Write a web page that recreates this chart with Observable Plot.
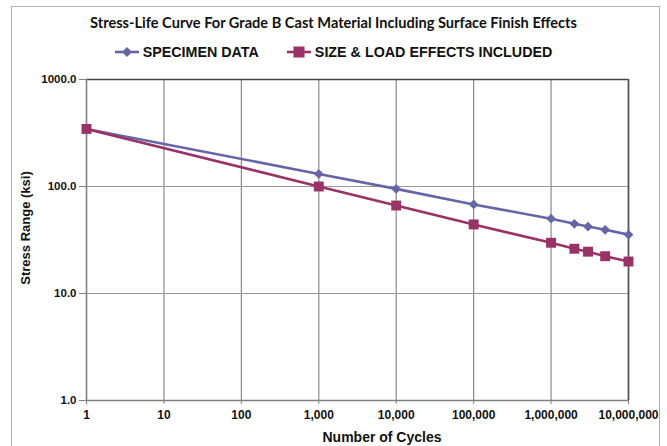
<!DOCTYPE html>
<html>
<head>
<meta charset="utf-8">
<script src="https://cdn.jsdelivr.net/npm/d3@7"></script>
<script src="https://cdn.jsdelivr.net/npm/@observablehq/plot@0.6"></script>
<style>
  html, body { margin: 0; padding: 0; background: #fff; }
  #wrap { position: relative; width: 667px; height: 446px; overflow: hidden; font-family: "Liberation Sans", Arial, sans-serif; }
  #border { position: absolute; left: 11px; top: 6px; width: 649px; height: 470px; border: 1.5px solid #b0b0b0; box-sizing: border-box; }
  #chart { position: absolute; left: 0; top: 0; }
  .abs { position: absolute; white-space: nowrap; }
  #title { left: 0; width: 667px; top: 22px; transform: translateY(-50%); text-align: center; font-family: Lato, "Open Sans", sans-serif; font-weight: bold; font-size: 14.6px; color: #111; }
  #legend { left: 0; width: 667px; top: 52px; transform: translateY(-50%); display: flex; justify-content: center; gap: 28px; font-weight: bold; font-size: 14.3px; color: #111; }
  .item { display: flex; align-items: center; gap: 4px; }
  #ytitle { left: 25px; top: 228px; transform: translate(-50%, -50%) rotate(-90deg); font-weight: bold; font-size: 13px; color: #111; }
  #xtitle { left: 382px; top: 437px; transform: translate(-50%, -50%); font-weight: bold; font-size: 14px; color: #111; }
</style>
</head>
<body>
<div id="wrap">
  <div id="border"></div>
  <div id="chart"></div>
  <div class="abs" id="title"></div>
  <div class="abs" id="legend"></div>
  <div class="abs" id="ytitle"></div>
  <div class="abs" id="xtitle"></div>
</div>
<script>
const titleText = "Stress-Life Curve For Grade B Cast Material Including Surface Finish Effects";
const xTitle = "Number of Cycles";
const yTitle = "Stress Range (ksi)";
const seriesNames = ["SPECIMEN DATA", "SIZE & LOAD EFFECTS INCLUDED"];
const seriesColors = ["#6666a6", "#993366"];
const cycles = [1, 1000, 10000, 100000, 1000000, 2000000, 3000000, 5000000, 10000000];
const specimen = [345, 131, 95, 68, 50, 44.8, 42.2, 39.4, 35.5];
const sizeLoad = [345, 100, 66.4, 44.2, 29.8, 26.2, 24.6, 22.3, 19.9];
const xTicks = [1, 10, 100, 1000, 10000, 100000, 1000000, 10000000];
const yTicks = [1, 10, 100, 1000];

const rows = (vals, s) => cycles.map((c, i) => ({cycles: c, stress: vals[i], series: s}));
const dSpec = rows(specimen, seriesNames[0]);
const dSize = rows(sizeLoad, seriesNames[1]);

const plot = Plot.plot({
  width: 667,
  height: 446,
  marginLeft: 86,
  marginRight: 39,
  marginTop: 79,
  marginBottom: 46,
  style: {fontFamily: "'Liberation Sans', Arial, sans-serif", fontSize: "12px", fontWeight: "bold", color: "#111", background: "transparent"},
  x: {type: "log", domain: [1, 1e7], label: null},
  y: {type: "log", domain: [1, 1000], label: null},
  marks: [
    Plot.gridX(xTicks.slice(1, -1), {stroke: "#8a8a8a", strokeOpacity: 1, strokeWidth: 1.2}),
    Plot.gridY([10, 100], {stroke: "#9a9a9a", strokeOpacity: 1, strokeWidth: 1.2}),
    Plot.ruleY([1000], {stroke: "#444", strokeWidth: 1.6}),
    Plot.ruleX([1e7], {stroke: "#555", strokeWidth: 1.8}),
    Plot.ruleX([1], {stroke: "#808080", strokeWidth: 1.6}),
    Plot.ruleY([1], {stroke: "#808080", strokeWidth: 1.6}),
    Plot.axisX({ticks: xTicks, tickFormat: d3.format(","), tickSize: 4, tickPadding: 6, stroke: "#808080", fontWeight: "bold", fontSize: 12}),
    Plot.axisY({ticks: yTicks, tickFormat: d3.format(".1f"), tickSize: 7, tickPadding: 3, stroke: "#808080", fontWeight: "bold", fontSize: 11.5}),
    Plot.line(dSpec, {x: "cycles", y: "stress", stroke: seriesColors[0], strokeWidth: 2.6}),
    Plot.dot(dSpec, {x: "cycles", y: "stress", symbol: "diamond2", r: 4.4, fill: seriesColors[0], stroke: "none"}),
    Plot.line(dSize, {x: "cycles", y: "stress", stroke: seriesColors[1], strokeWidth: 2.6}),
    Plot.dot(dSize, {x: "cycles", y: "stress", symbol: "square", r: 5.6, fill: seriesColors[1], stroke: "none"})
  ]
});
document.getElementById("chart").appendChild(plot);

document.getElementById("title").textContent = titleText;
document.getElementById("xtitle").textContent = xTitle;
document.getElementById("ytitle").textContent = yTitle;

const legend = document.getElementById("legend");
const symbols = [
  '<polygon points="12,1 17,6 12,11 7,6" />',
  '<rect x="6.5" y="0.5" width="11" height="11" />'
];
seriesNames.forEach((name, i) => {
  const item = document.createElement("div");
  item.className = "item";
  item.innerHTML = `<svg width="24" height="12" viewBox="0 0 24 12"><line x1="0" y1="6" x2="24" y2="6" stroke="${seriesColors[i]}" stroke-width="2.6"/><g fill="${seriesColors[i]}">${symbols[i]}</g></svg><span>${name}</span>`;
  legend.appendChild(item);
});
</script>
</body>
</html>
